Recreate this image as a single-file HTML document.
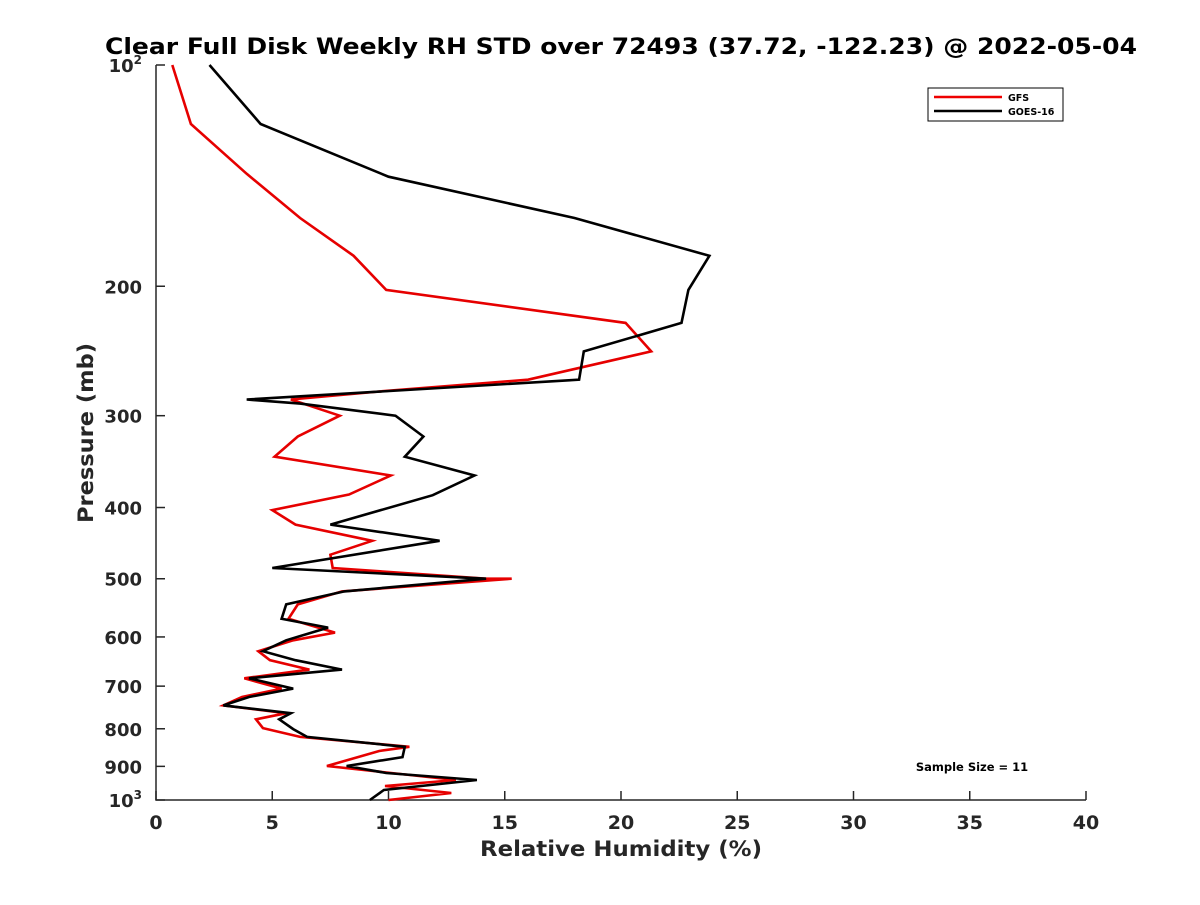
<!DOCTYPE html>
<html><head><meta charset="utf-8"><style>
body{margin:0;background:#fff;}
svg text{font-family:"DejaVu Sans","Liberation Sans",sans-serif;font-weight:bold;fill:#262626;}
</style></head><body>
<svg id="chart" width="1200" height="900" viewBox="0 0 1200 900" xmlns="http://www.w3.org/2000/svg">
<rect width="1200" height="900" fill="#fff"/>
<text x="621" y="54" text-anchor="middle" font-size="22" textLength="1032" lengthAdjust="spacingAndGlyphs" style="fill:#000">Clear Full Disk Weekly RH STD over 72493 (37.72, -122.23) @ 2022-05-04</text>
<g id="axes"></g>
<g id="series"></g>
<g>
<rect x="928" y="88" width="135" height="33" fill="#fff" stroke="#000" stroke-width="1"/>
<line x1="934" y1="97" x2="1002" y2="97" stroke="#e00" stroke-width="2.5"/>
<text x="1008" y="101" font-size="9.5" style="fill:#000">GFS</text>
<line x1="934" y1="111" x2="1002" y2="111" stroke="#000" stroke-width="2.5"/>
<text x="1008" y="115" font-size="9.5" style="fill:#000">GOES-16</text>
</g>
<text x="972" y="771" text-anchor="middle" font-size="11.5" style="fill:#000">Sample Size = 11</text>
<text x="621" y="856" text-anchor="middle" font-size="21" textLength="282" lengthAdjust="spacingAndGlyphs">Relative Humidity (%)</text>
<text transform="translate(93,433) rotate(-90)" text-anchor="middle" font-size="21" textLength="180" lengthAdjust="spacingAndGlyphs">Pressure (mb)</text>
</svg>
<script>
const xTicks=[0,5,10,15,20,25,30,35,40];
const yTicks=[100,200,300,400,500,600,700,800,900,1000];
const yTickLabels=["10²","200","300","400","500","600","700","800","900","10³"];
const goesPressure=[100,120.3,141.9,161.5,181.8,202.3,224.3,245.3,268.0,285.2,288.9,300.0,320.2,341.1,361.8,384.9,422.0,443.9,483.4,500.0,520.3,541.8,566.9,582.7,606.4,627.5,645.4,664.7,682.9,705.4,724.1,743.5,762.0,776.5,800.7,820.6,846.6,874.3,899.0,919.0,939.3,969.2,1000.0];
const goesRH=[2.3,4.5,10.0,18.0,23.8,22.9,22.6,18.4,18.2,3.9,6.2,10.3,11.5,10.7,13.7,11.9,7.5,12.2,5.0,14.2,8.1,5.6,5.4,7.4,5.6,4.6,6.0,8.0,4.0,5.9,4.0,2.9,5.8,5.3,5.9,6.5,10.7,10.6,8.2,9.9,13.8,9.8,9.2];
const gfsPressure=[100,120.3,140.6,161.5,181.8,202.3,224.3,245.3,268.0,278.1,285.2,300.0,320.2,341.1,361.8,384.0,403.3,422.0,443.9,463.7,483.4,500.0,500.0,520.3,541.8,566.9,591.9,606.4,627.5,645.4,664.7,682.9,705.4,724.1,743.5,762.0,776.5,798.3,820.6,846.6,857.7,898.9,939.3,957.2,978.3,1000.0];
const gfsRH=[0.7,1.5,3.9,6.2,8.5,9.9,20.2,21.3,16.0,9.6,5.8,7.9,6.1,5.1,10.1,8.3,5.0,6.0,9.3,7.5,7.6,14.2,15.3,8.0,6.1,5.7,7.7,5.9,4.4,4.9,6.6,3.8,5.4,3.7,2.9,5.6,4.3,4.6,6.2,10.9,9.6,7.35,12.9,9.85,12.7,10.0];

const X0=156,X1=1086,Y0=65,Y1=800,XMIN=0,XMAX=40,PMIN=100,PMAX=1000;
function xs(v){return X0+(v-XMIN)/(XMAX-XMIN)*(X1-X0);}
function ys(p){return Y0+(Math.log10(p)-Math.log10(PMIN))/(Math.log10(PMAX)-Math.log10(PMIN))*(Y1-Y0);}
const NS="http://www.w3.org/2000/svg";
const axes=document.getElementById('axes');
function mk(tag,attrs,parent){const e=document.createElementNS(NS,tag);for(const k in attrs)e.setAttribute(k,attrs[k]);parent.appendChild(e);return e;}
let ax=mk('path',{d:`M${X0},${Y0}V${Y1}H${X1}`,fill:'none',stroke:'#262626','stroke-width':1.5},axes);


xTicks.forEach(t=>{
  const x=xs(t);
  const l=mk('line',{x1:x,y1:Y1,x2:x,y2:Y1-9,stroke:'#262626','stroke-width':1.5},axes);
  
  
  const tx=mk('text',{x:x,y:Y1+29,'text-anchor':'middle','font-size':19},axes);
  tx.textContent=t;
  
  
});
yTicks.forEach((t,i)=>{
  const y=ys(t);
  const l=mk('line',{x1:X0,y1:y,x2:X0+9,y2:y,stroke:'#262626','stroke-width':1.5},axes);
  
  
  const tx=mk('text',{x:X0-14,y:y+7,'text-anchor':'end','font-size':18},axes);
  const lab=yTickLabels[i];
  if(lab.length===3&&(lab[2]==='²'||lab[2]==='³')){
    tx.textContent=lab.slice(0,2);
    const s=mk('tspan',{dy:-8,'font-size':12},tx);s.textContent=lab[2]==='²'?'2':'3';
  } else tx.textContent=lab;
  
  
});
const series=document.getElementById('series');
function line(rh,p,color,name){
  const pts=rh.map((v,i)=>xs(v).toFixed(1)+','+ys(p[i]).toFixed(1)).join(' ');
  const pl=mk('polyline',{points:pts,fill:'none',stroke:color,'stroke-width':2.6,'stroke-linejoin':'miter'},series);
  
  
}
line(gfsRH,gfsPressure,'#e60000','gfs-line');
line(goesRH,goesPressure,'#000','goes16-line');
</script>
</body></html>
